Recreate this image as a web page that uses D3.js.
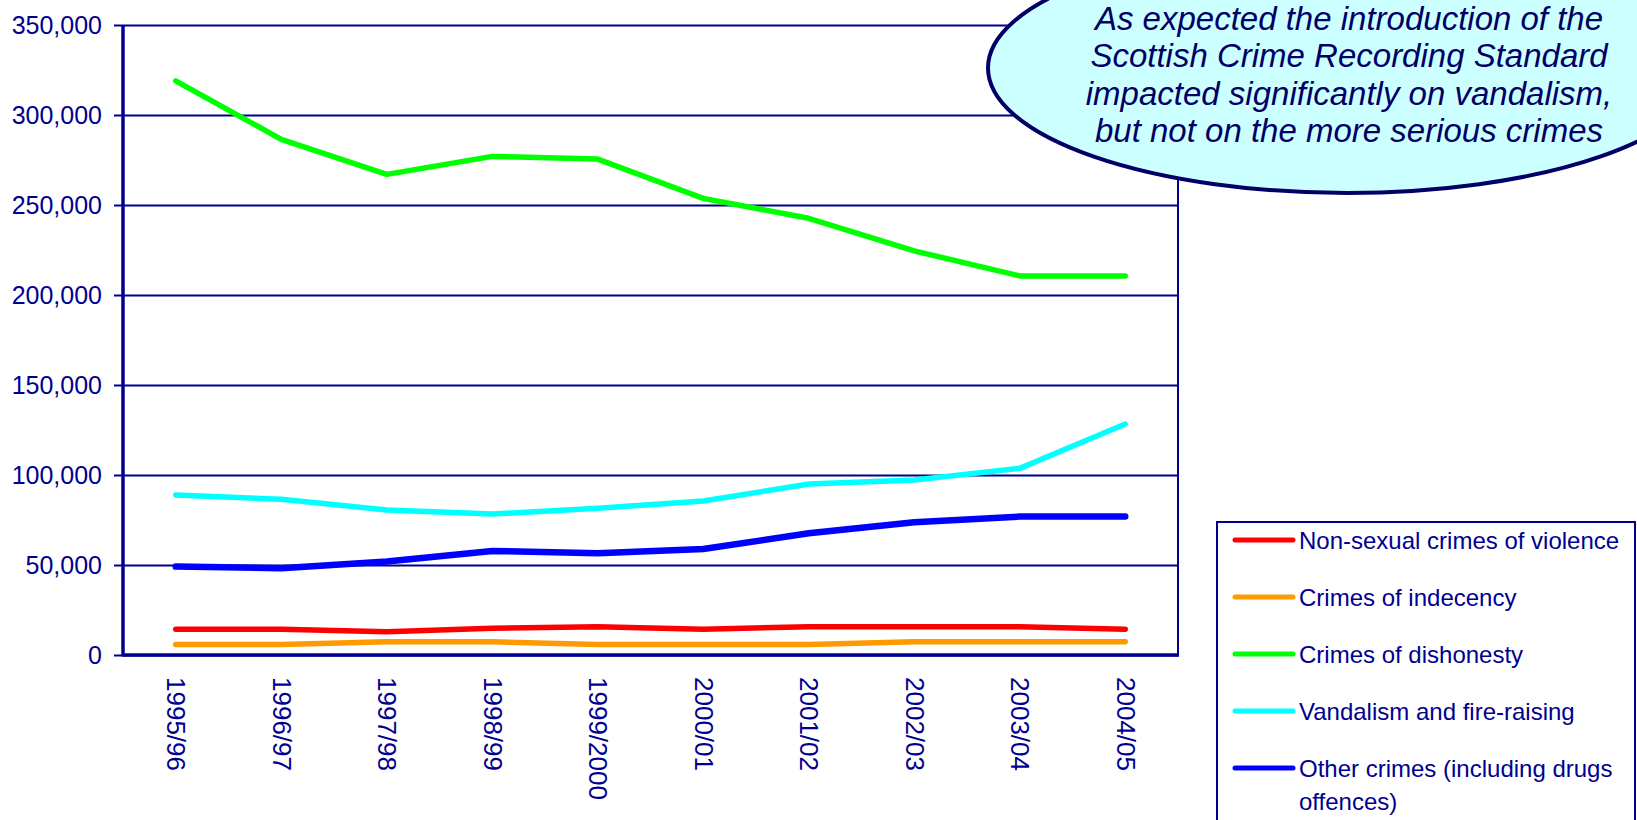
<!DOCTYPE html>
<html><head><meta charset="utf-8">
<script src="https://cdn.jsdelivr.net/npm/d3@7"></script>
<style>body{margin:0;background:#fff;} svg{display:block;font-family:"Liberation Sans",Arial,sans-serif;}</style>
</head><body>
<svg id="chart" width="1637" height="820"></svg>
<script>
const categories = ["1995/96","1996/97","1997/98","1998/99","1999/2000","2000/01","2001/02","2002/03","2003/04","2004/05"];
const violence   = [14300, 14300, 12900, 14800, 15700, 14300, 15700, 15700, 15700, 14300];
const indecency  = [5900, 5900, 7400, 7300, 5900, 5900, 5900, 7400, 7400, 7400];
const dishonesty = [319000, 286500, 267000, 277000, 275500, 253700, 242600, 224500, 210600, 210600];
const vandalism  = [88900, 86500, 80600, 78300, 81500, 85600, 95000, 97200, 103700, 128300];
const otherCrime = [49100, 48200, 51900, 57800, 56500, 58900, 67600, 73700, 76900, 76900];
const seriesNames = ["Non-sexual crimes of violence","Crimes of indecency","Crimes of dishonesty","Vandalism and fire-raising","Other crimes (including drugs|offences)"];
const seriesColors = ["#FF0000","#FF9900","#00FF00","#00FFFF","#0000FF"];
const yTicks = [0,50000,100000,150000,200000,250000,300000,350000];
const noteLines = ["As expected the introduction of the","Scottish Crime Recording Standard","impacted significantly on vandalism,","but not on the more serious crimes"];

const seriesData = [violence, indecency, dishonesty, vandalism, otherCrime];
const navy = "#000090";
const svg = d3.select("#chart");
const L = 123, R = 1178, T = 25, B = 655;

const x = d3.scalePoint().domain(categories).range([L, R]).padding(0.5);
const y = d3.scaleLinear().domain([0, 350000]).range([B, T]);

// gridlines
const grid = svg.append("g").attr("transform", `translate(${L},0)`)
  .call(d3.axisLeft(y).tickValues(yTicks).tickSize(-(R - L)).tickFormat(""));
grid.select(".domain").remove();
grid.selectAll("line").attr("stroke", navy).attr("stroke-width", 2);

// y axis with ticks and labels
const yAx = svg.append("g").attr("transform", `translate(${L},0)`)
  .call(d3.axisLeft(y).tickValues(yTicks).tickSize(9).tickSizeOuter(0).tickPadding(12).tickFormat(d3.format(",")));
yAx.select(".domain").remove();
yAx.selectAll("line").attr("stroke", navy).attr("stroke-width", 2);
yAx.selectAll("text").attr("fill", navy).style("font-size", "25px").style("font-family", "Liberation Sans, Arial, sans-serif");

// x axis labels
const xAx = svg.append("g").attr("transform", `translate(0,${B})`)
  .call(d3.axisBottom(x).tickSize(0).tickSizeOuter(0));
xAx.select(".domain").remove();
xAx.selectAll("text")
  .attr("fill", navy)
  .style("font-size", "26px").style("font-family", "Liberation Sans, Arial, sans-serif")
  .attr("x", 0).attr("y", 0).attr("dy", null)
  .attr("text-anchor", "start")
  .attr("dominant-baseline", "central")
  .attr("transform", "translate(0,22) rotate(90)");

// frame
svg.append("line").attr("x1", R).attr("x2", R).attr("y1", T).attr("y2", B).attr("stroke", navy).attr("stroke-width", 2);
svg.append("line").attr("x1", L).attr("x2", L).attr("y1", T).attr("y2", B + 1.5).attr("stroke", navy).attr("stroke-width", 3.5);
svg.append("line").attr("x1", L).attr("x2", R + 1).attr("y1", B).attr("y2", B).attr("stroke", navy).attr("stroke-width", 3.5);

// series lines
const line = d3.line().x((d, i) => x(categories[i])).y(d => y(d));
svg.append("g").selectAll("path").data(seriesData).join("path")
  .attr("d", line).attr("fill", "none")
  .attr("stroke", (d, i) => seriesColors[i])
  .attr("stroke-width", (d, i) => i === 4 ? 6.5 : 5.5)
  .attr("stroke-linecap", "round").attr("stroke-linejoin", "round");

// callout ellipse
svg.append("ellipse").attr("cx", 1347).attr("cy", 68).attr("rx", 359).attr("ry", 125)
  .attr("fill", "#CCFFFF").attr("stroke", "#000066").attr("stroke-width", 4);
svg.append("g").selectAll("text").data(noteLines).join("text")
  .attr("x", 1349).attr("y", (d, i) => 18 + i * 37.5)
  .attr("text-anchor", "middle").attr("dominant-baseline", "central")
  .attr("fill", "#000066").style("font-style", "italic").style("font-size", "33px")
  .text(d => d);

// legend
const lg = svg.append("g");
lg.append("rect").attr("x", 1217).attr("y", 522).attr("width", 418).attr("height", 320)
  .attr("fill", "#fff").attr("stroke", navy).attr("stroke-width", 2);
const rowY = [540, 597, 654, 711, 768];
const items = lg.selectAll("g.item").data(seriesNames).join("g").attr("class", "item")
  .attr("transform", (d, i) => `translate(0,${rowY[i]})`);
items.append("line").attr("x1", 1235).attr("x2", 1293).attr("y1", 0).attr("y2", 0)
  .attr("stroke", (d, i) => seriesColors[i]).attr("stroke-width", 5).attr("stroke-linecap", "round");
items.each(function(d) {
  const parts = d.split("|");
  d3.select(this).selectAll("text").data(parts).join("text")
    .attr("x", 1299).attr("y", (p, j) => j * 33)
    .attr("dominant-baseline", "central")
    .attr("fill", navy).style("font-size", "24px")
    .text(p => p);
});
</script>
</body></html>
